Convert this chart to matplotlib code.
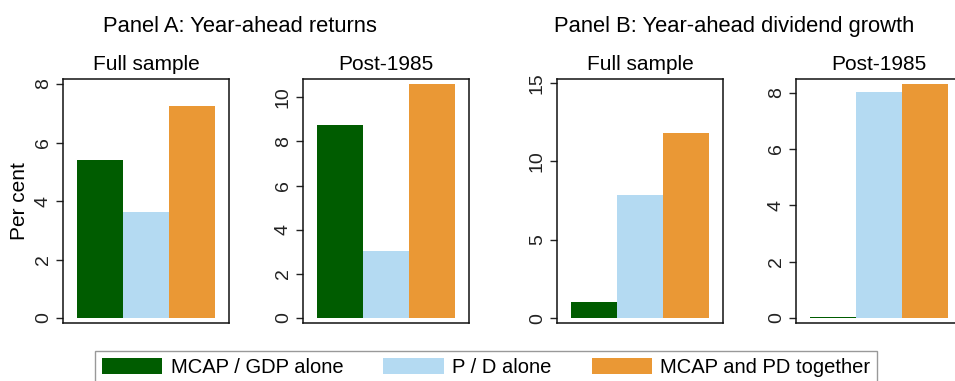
import matplotlib
matplotlib.use("Agg")
from matplotlib import pyplot as plt

# Coefficients (per cent) for each predictor set
series = ["MCAP / GDP alone", "P / D alone", "MCAP and PD together"]
colors = ["#005c00", "#b4daf2", "#ea9835"]

returns_full = [5.40, 3.62, 7.25]
returns_post = [8.74, 3.04, 10.60]
divgrowth_full = [1.04, 7.86, 11.84]
divgrowth_post = [0.04, 8.02, 8.30]

panel_titles = ["Panel A: Year-ahead returns", "Panel B: Year-ahead dividend growth"]
sub_titles = ["Full sample", "Post-1985", "Full sample", "Post-1985"]

plt.rcParams["font.family"] = ["Liberation Sans", "DejaVu Sans"]

fig = plt.figure(figsize=(9.55, 3.81), dpi=100)

lefts = [0.0660, 0.3173, 0.5832, 0.8335]
bottom, width, height = 0.1522, 0.174, 0.6404

panels = [
    (returns_full, (-0.17, 8.17), [0, 2, 4, 6, 8]),
    (returns_post, (-0.23, 10.83), [0, 2, 4, 6, 8, 10]),
    (divgrowth_full, (-0.29, 15.25), [0, 5, 10, 15]),
    (divgrowth_post, (-0.18, 8.48), [0, 2, 4, 6, 8]),
]

handles = []
for i, (vals, ylim, ticks) in enumerate(panels):
    ax = fig.add_axes([lefts[i], bottom, width, height])
    bars = ax.bar(range(3), vals, width=1.0, color=colors, linewidth=0)
    if i == 0:
        handles = list(bars)
    ax.set_xlim(-0.8, 2.8)
    ax.set_ylim(*ylim)
    ax.set_yticks(ticks)
    ax.set_yticklabels([str(t) for t in ticks], rotation=90, va="center")
    ax.set_xticks([])
    ax.tick_params(axis="y", length=5, width=1, labelsize=14, pad=3, colors="#222222")
    for sp in ax.spines.values():
        sp.set_linewidth(1.1)
        sp.set_color("#111111")
    ax.set_title(sub_titles[i], fontsize=15, pad=6.5)
    if i == 0:
        ax.set_ylabel("Per cent", fontsize=15, labelpad=4)

fig.text(0.2513, 0.915, panel_titles[0], fontsize=15.8, ha="center", va="baseline")
fig.text(0.7683, 0.915, panel_titles[1], fontsize=15.8, ha="center", va="baseline")

leg = fig.legend(handles, series, loc="upper center", bbox_to_anchor=(0.509, 0.0787),
                 ncol=3, fontsize=14.5, frameon=True, fancybox=False,
                 handlelength=3.0, handleheight=0.8, handletextpad=0.4,
                 columnspacing=2.0, borderpad=0.35, borderaxespad=0)
leg.get_frame().set_edgecolor("#808080")
leg.get_frame().set_linewidth(1.0)

fig.savefig("out.png", dpi=100)
